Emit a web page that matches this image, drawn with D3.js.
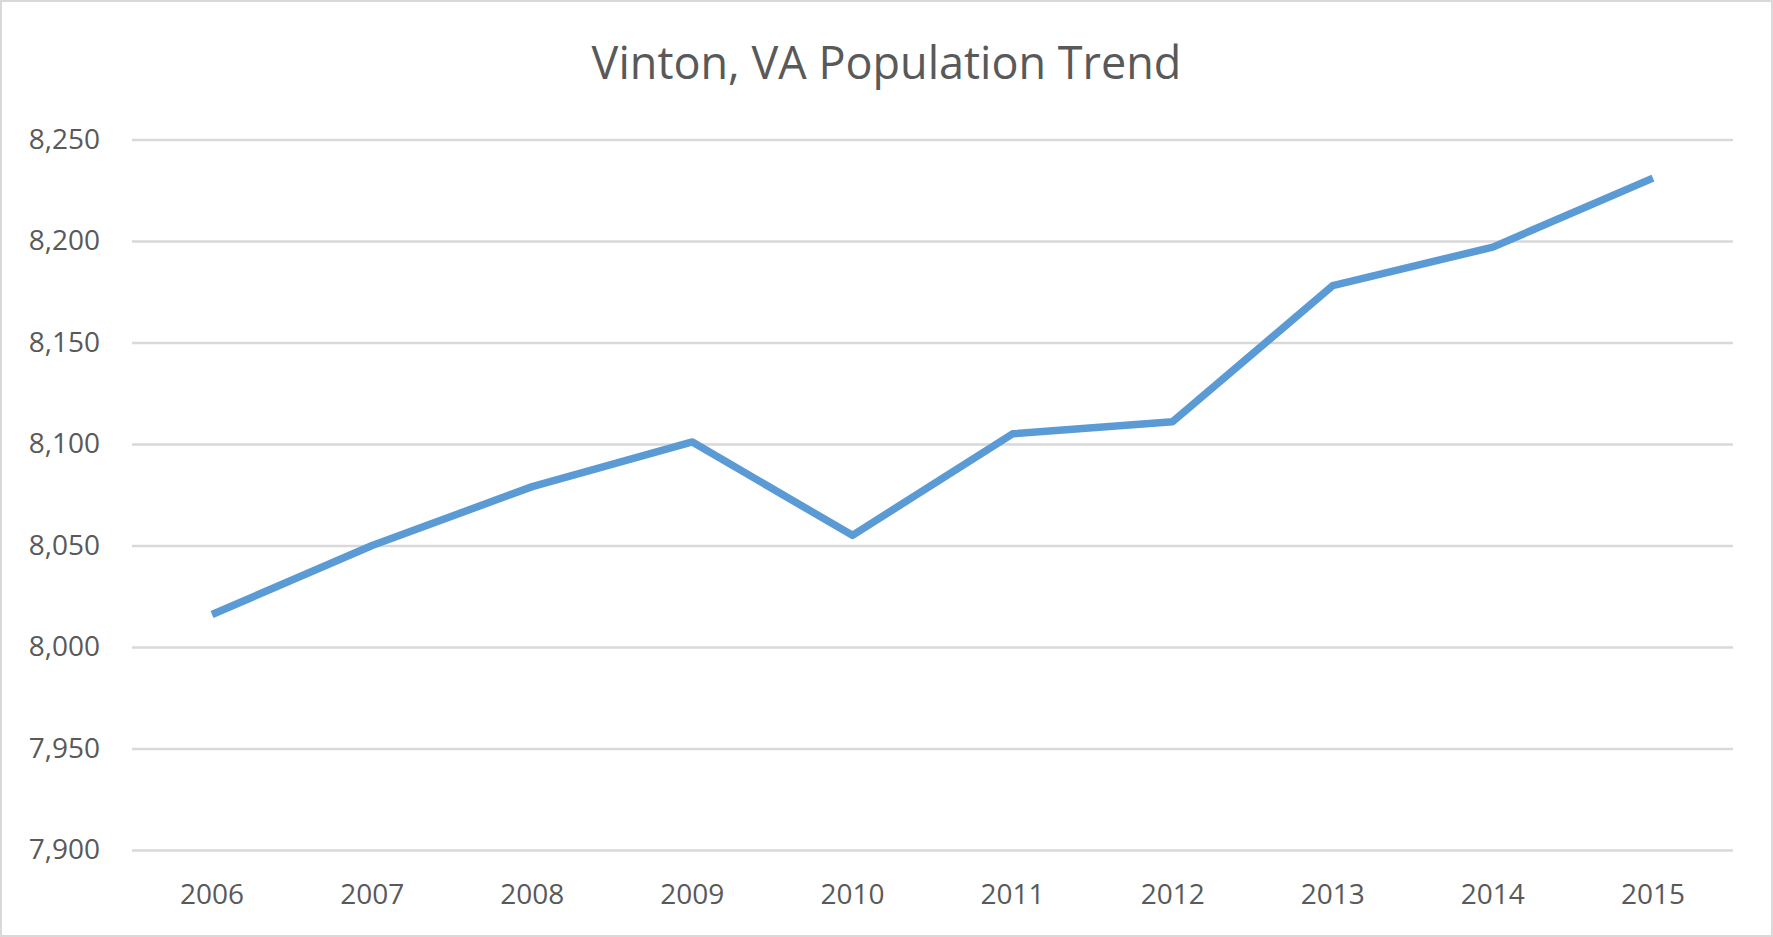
<!DOCTYPE html>
<html>
<head>
<meta charset="utf-8">
<script src="https://cdn.jsdelivr.net/npm/d3@7"></script>
<style>
  html, body { margin: 0; padding: 0; background: #fff; }
  svg { display: block; font-family: "Open Sans", sans-serif; }
</style>
</head>
<body>
<div id="chart"></div>
<script>
// Vinton, VA population trend — Excel-style line chart
const years = ["2006", "2007", "2008", "2009", "2010", "2011", "2012", "2013", "2014", "2015"];
const population = [8016, 8050, 8079, 8101, 8055, 8105, 8111, 8178, 8197, 8231];
const yTicks = [7900, 7950, 8000, 8050, 8100, 8150, 8200, 8250];
const title = "Vinton, VA Population Trend";

(function () {
  const W = 1773, H = 937;
  const mL = 132, mR = 40, mT = 139.5, mB = 87;

  const svg = d3.select("#chart").append("svg")
    .attr("width", W).attr("height", H)
    .attr("viewBox", `0 0 ${W} ${H}`);

  // chart border
  svg.append("rect")
    .attr("x", 1).attr("y", 1).attr("width", W - 2).attr("height", H - 2)
    .attr("fill", "#fff").attr("stroke", "#d9d9d9").attr("stroke-width", 2);

  const x = d3.scaleBand().domain(years).range([mL, W - mR]);
  const y = d3.scaleLinear().domain([7900, 8250]).range([H - mB, mT]);

  // title
  svg.append("text")
    .attr("x", W / 2).attr("y", 79)
    .attr("text-anchor", "middle").attr("fill", "#595959")
    .attr("font-size", "45px")
    .text(title);

  // gridlines + y labels
  const yAxis = d3.axisLeft(y).tickValues(yTicks)
    .tickSize(-(W - mL - mR)).tickPadding(32)
    .tickFormat(d3.format(","));
  const gy = svg.append("g").attr("transform", `translate(${mL},0)`).call(yAxis);
  gy.select(".domain").remove();
  gy.selectAll(".tick line").attr("stroke", "#d9d9d9").attr("stroke-width", 2.5);
  gy.selectAll(".tick text")
    .attr("fill", "#595959").attr("font-size", "28px")
    .attr("font-family", "'Open Sans', sans-serif");

  // x labels
  const xAxis = d3.axisBottom(x).tickSize(0).tickPadding(34);
  const gx = svg.append("g").attr("transform", `translate(0,${H - mB})`).call(xAxis);
  gx.select(".domain").remove();
  gx.selectAll(".tick text")
    .attr("fill", "#595959").attr("font-size", "28px")
    .attr("font-family", "'Open Sans', sans-serif");

  // line
  const line = d3.line()
    .x((d, i) => x(years[i]) + x.bandwidth() / 2)
    .y(d => y(d));

  svg.append("path")
    .datum(population)
    .attr("d", line)
    .attr("fill", "none")
    .attr("stroke", "#5b9bd5")
    .attr("stroke-width", 7.5)
    .attr("stroke-linejoin", "round")
    .attr("stroke-linecap", "butt");
})();
</script>
</body>
</html>
